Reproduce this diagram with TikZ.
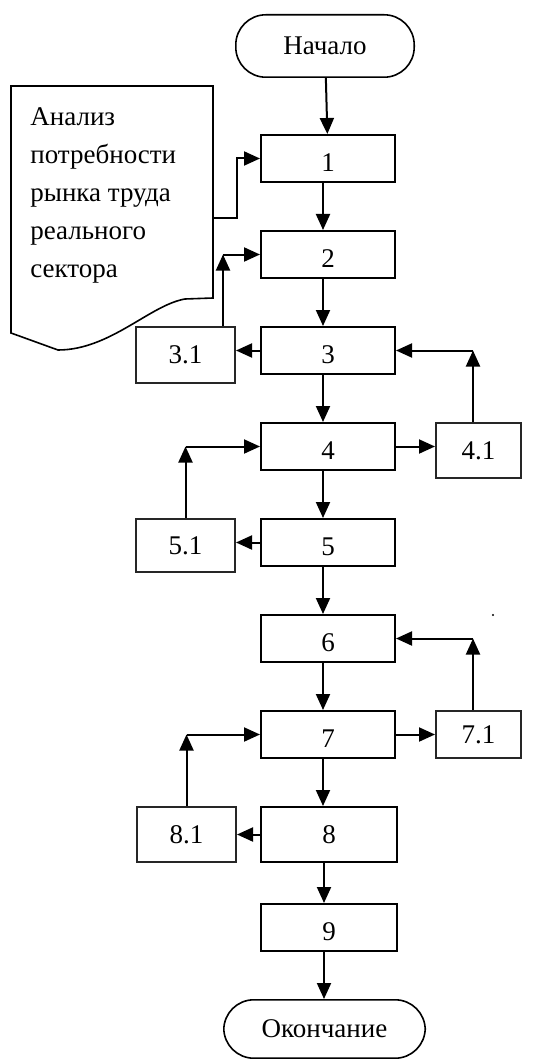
\documentclass[tikz,border=0pt]{standalone}
\usepackage{fontspec}
\setmainfont{Liberation Serif}
\usetikzlibrary{arrows.meta, positioning}
\tikzset{
    terminal/.style={
        rectangle, draw=black, line width=0.8pt, rounded corners=15pt,
        minimum height=31.2pt, font=\fontsize{13.5}{19}\selectfont
    },
    stage/.style={
        rectangle, draw=black, line width=1pt,
        minimum width=67pt, minimum height=23.5pt, inner sep=0pt,
        text height=13.1pt, text depth=0pt,
        font=\fontsize{13.5}{19}\selectfont
    },
    substage/.style={
        rectangle, draw=black!85, line width=0.8pt,
        minimum width=49.7pt, inner sep=0pt,
        font=\fontsize{13.5}{19}\selectfont
    },
    flow/.style={draw=black, line width=1pt, -{Triangle[length=8pt, width=7pt]}},
    sheet/.style={draw=black, line width=0.8pt}
}

\begin{document}
\begin{tikzpicture}
\useasboundingbox (0,0) rectangle (279pt,-529.5pt);

% Start (top)
\node[terminal, minimum width=89.2pt] (start) at (162.5pt,-23pt) {Начало};

% Main chain
\node[stage, below=28pt of start, xshift=1.5pt] (b1) {1};
\node[stage, below=23.5pt of b1] (b2) {2};
\node[stage, below=23.5pt of b2] (b3) {3};
\node[stage, below=23.5pt of b3] (b4) {4};
\node[stage, below=23.5pt of b4] (b5) {5};
\node[stage, below=23.5pt of b5] (b6) {6};
\node[stage, below=23.5pt of b6] (b7) {7};
\node[stage, below=23.5pt of b7, xshift=0.5pt, minimum width=68pt, minimum height=27.5pt, text height=9.1pt] (b8) {8};
\node[stage, below=20pt of b8, minimum width=68pt] (b9) {9};

% End (bottom)
\node[terminal, below=23.5pt of b9, xshift=-2.25pt, minimum width=100.7pt, minimum height=29.2pt] (end) {Окончание};

% Side stages (left)
\node[substage, left=12pt of b3.north west, anchor=north east, minimum height=28.2pt] (s31) {3.1};
\node[substage, left=12pt of b5.north west, anchor=north east, minimum height=26.7pt] (s51) {5.1};
\node[substage, left=11.5pt of b8.north west, anchor=north east, minimum height=27.7pt] (s81) {8.1};

% Side stages (right)
\node[substage, right=19.5pt of b4.north east, anchor=north west, minimum width=42.7pt, minimum height=27.7pt] (s41) {4.1};
\node[substage, right=19.5pt of b7.north east, anchor=north west, minimum width=42.7pt, minimum height=23.7pt] (s71) {7.1};

% Input document
\draw[sheet] (5.5pt,-43pt) -- (106.5pt,-43pt) -- (106.5pt,-149pt) -- (92.5pt,-149.5pt)
    .. controls (75pt,-152.5pt) and (55pt,-175pt) .. (29pt,-175pt)
    -- (5.5pt,-166.5pt) -- cycle;
\node[anchor=north west, align=left, inner sep=0pt, font=\fontsize{13.5}{19}\selectfont] (need) at (15pt,-53.5pt)
    {Анализ\\потребности\\рынка труда\\реального\\сектора};
\coordinate (needout) at (106.5pt,-109pt);

% Main flow
\draw[flow] (start) -- (b1);
\foreach \a/\b in {b1/b2, b2/b3, b3/b4, b4/b5, b5/b6, b6/b7, b7/b8, b8/b9, b9/end}
    \draw[flow] ([xshift=-2.5pt]\a.south) -- ([xshift=-2.5pt]\a.south |- \b.north);

\draw[flow] (needout) -- ++(12pt,0) |- (b1.west);

% Branches out
\draw[flow] (b3.west) -- (b3.west -| s31.east);
\draw[flow] (b4.east) -- (b4.east -| s41.west);
\draw[flow] (b5.west) -- (b5.west -| s51.east);
\draw[flow] (b7.east) -- (b7.east -| s71.west);
\draw[flow] (b8.west) -- (b8.west -| s81.east);

% Returns
\coordinate (k31) at ([xshift=-6.5pt]s31.north east |- b2.west);
\draw[flow] ([xshift=-6.5pt]s31.north east) -- (k31);
\draw[flow] (k31) -- (b2.west);

\coordinate (k41) at ([xshift=-2.75pt]s41.north |- b3.east);
\draw[flow] ([xshift=-2.75pt]s41.north) -- (k41);
\draw[flow] (k41) -- (b3.east);

\coordinate (k51) at (s51.north |- b4.west);
\draw[flow] (s51.north) -- (k51);
\draw[flow] (k51) -- (b4.west);

\coordinate (k71) at ([xshift=-2.75pt]s71.north |- b6.east);
\draw[flow] ([xshift=-2.75pt]s71.north) -- (k71);
\draw[flow] (k71) -- (b6.east);

\coordinate (k81) at (s81.north |- b7.west);
\draw[flow] (s81.north) -- (k81);
\draw[flow] (k81) -- (b7.west);

% stray dot
\fill (246.5pt,-307.5pt) circle (0.6pt);

\end{tikzpicture}
\end{document}
